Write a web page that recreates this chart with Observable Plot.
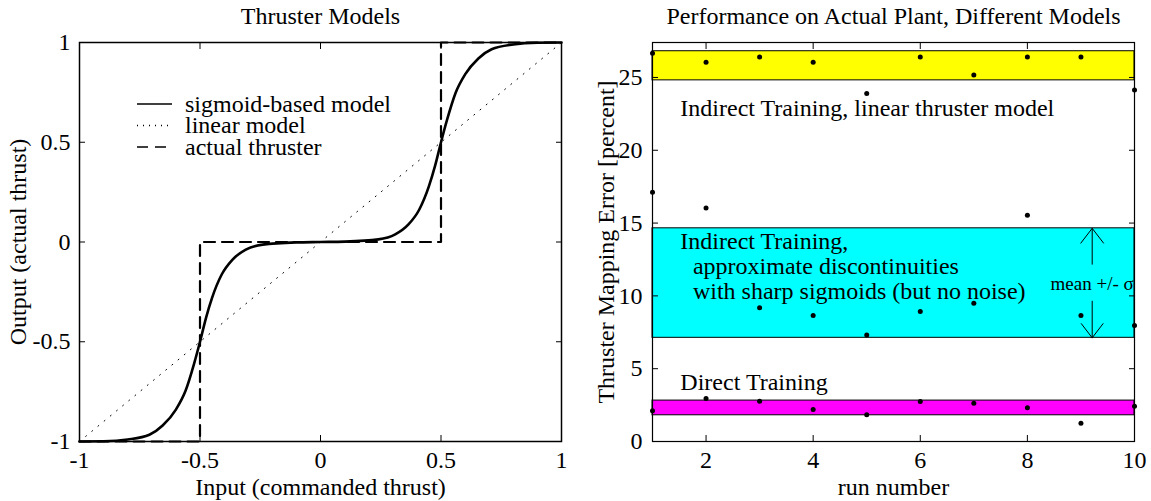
<!DOCTYPE html>
<html><head><meta charset="utf-8">
<script src="https://cdn.jsdelivr.net/npm/d3@7"></script>
<script src="https://cdn.jsdelivr.net/npm/@observablehq/plot@0.6"></script>
<style>
body{margin:0;background:#fff;}
#wrap{position:relative;width:1151px;height:501px;display:flex;font-family:"Liberation Serif","Times New Roman",serif;}
#legend{position:absolute;left:137px;top:92px;}
svg{overflow:visible;}
</style></head><body>
<div id="wrap"><div id="left"></div><div id="right"></div><div id="legend"></div></div>
<script>
// ---------- Left chart data ----------
const leftTitle = "Thruster Models";
const leftXLabel = "Input (commanded thrust)";
const leftYLabel = "Output (actual thrust)";
const leftTicks = [-1, -0.5, 0, 0.5, 1];
const thrusterX = [-1, -0.5, -0.5, 0.5, 0.5, 1];
const thrusterY = [-1, -1, 0, 0, 1, 1];
const linearX = [-1, 1];
const linearY = [-1, 1];
const sigmoidX = [-1, -0.9, -0.8, -0.71, -0.655, -0.6, -0.56, -0.525, -0.5, -0.475, -0.45, -0.41, -0.365, -0.31, -0.24, -0.1, 0,
                  0.1, 0.24, 0.31, 0.365, 0.41, 0.45, 0.475, 0.5, 0.525, 0.56, 0.6, 0.655, 0.71, 0.8, 0.9, 1];
const sigmoidY = [-1, -0.999, -0.99, -0.966, -0.92, -0.84, -0.746, -0.612, -0.5, -0.38, -0.28, -0.163, -0.088, -0.038, -0.013, -0.002, 0,
                  0.002, 0.013, 0.038, 0.088, 0.163, 0.28, 0.38, 0.5, 0.612, 0.746, 0.84, 0.92, 0.966, 0.99, 0.999, 1];
const legendLabels = ["sigmoid-based model", "linear model", "actual thruster"];

// ---------- Right chart data ----------
const rightTitle = "Performance on Actual Plant, Different Models";
const rightXLabel = "run number";
const rightYLabel = "Thruster Mapping Error [percent]";
const runs = [1, 2, 3, 4, 5, 6, 7, 8, 9, 10];
const linearErr  = [26.66, 26.05, 26.4, 26.05, 23.9, 26.4, 25.16, 26.4, 26.4, 24.13];
const sigmoidErr = [17.12, 16.03, 9.18, 8.65, 7.31, 8.92, 9.5, 15.53, 8.65, 7.97];
const directErr  = [2.12, 2.95, 2.76, 2.19, 1.83, 2.74, 2.62, 2.31, 1.25, 2.42];
const bandLow   = [24.8, 7.12, 1.80];
const bandHigh  = [26.8, 14.64, 2.81];
const bandColors = ["#ffff00", "#00ffff", "#ff00ff"];
const rightXTicks = [2, 4, 6, 8, 10];
const rightYTicks = [0, 5, 10, 15, 20, 25];
const annoText = ["Indirect Training, linear thruster model", "Indirect Training,", "approximate discontinuities",
                  "with sharp sigmoids (but no noise)", "Direct Training"];
const annoX = [1.52, 1.52, 1.755, 1.755, 1.52];
const annoY = [22.9, 13.77, 12.05, 10.34, 4.06];
const sigmaLabel = "mean +/- σ";
const sigmaRun = 9.21;
const sigmaTextY = 10.8;
const sigmaArrowTo = [14.64, 7.12];
const sigmaArrowGap = [20, 17];

const FONT = '"Liberation Serif","Times New Roman",serif';
const FS = 24;
const fmt = d => String(d);

// ---------- Left chart ----------
const thruster = thrusterX.map((x, i) => ({x, y: thrusterY[i]}));
const linear = linearX.map((x, i) => ({x, y: linearY[i]}));
const sigmoid = sigmoidX.map((x, i) => ({x, y: sigmoidY[i]}));

const left = Plot.plot({
  width: 590, height: 501,
  marginLeft: 79, marginRight: 29, marginTop: 42, marginBottom: 60,
  style: {fontFamily: FONT, fontSize: FS + "px", background: "white", color: "black", overflow: "visible"},
  x: {domain: [-1, 1]},
  y: {domain: [-1, 1]},
  marks: [
    Plot.line(linear, {x: "x", y: "y", stroke: "black", strokeWidth: 1, strokeDasharray: "1,7"}),
    Plot.line(thruster, {x: "x", y: "y", stroke: "black", strokeWidth: 2.2, strokeDasharray: "11,7"}),
    Plot.line(sigmoid, {x: "x", y: "y", stroke: "black", strokeWidth: 2.6, curve: "monotone-x"}),
    Plot.frame({stroke: "black", strokeWidth: 1.5}),
    Plot.axisX(leftTicks, {anchor: "bottom", tickSize: 0, tickPadding: 9, tickFormat: fmt, label: null, fontSize: FS}),
    Plot.axisX(leftTicks, {anchor: "bottom", tickSize: -6, text: null, label: null}),
    Plot.axisX(leftTicks, {anchor: "top", tickSize: -6, text: null, label: null}),
    Plot.axisY(leftTicks, {anchor: "left", tickSize: 0, tickPadding: 9, tickFormat: fmt, label: null, fontSize: FS}),
    Plot.axisY(leftTicks, {anchor: "left", tickSize: -6, text: null, label: null}),
    Plot.axisY(leftTicks, {anchor: "right", tickSize: -6, text: null, label: null}),
    Plot.text([leftTitle], {frameAnchor: "top", lineAnchor: "middle", dy: -26, fontSize: FS}),
    Plot.text([leftXLabel], {frameAnchor: "bottom", lineAnchor: "middle", dy: 46, fontSize: FS}),
    Plot.text([leftYLabel], {frameAnchor: "left", textAnchor: "middle", lineAnchor: "middle", dx: -61, rotate: -90, fontSize: FS})
  ]
});
document.getElementById("left").appendChild(left);

// ---------- Right chart ----------
const pts = [];
runs.forEach((r, i) => {
  pts.push({run: r, err: linearErr[i]});
  pts.push({run: r, err: sigmoidErr[i]});
  pts.push({run: r, err: directErr[i]});
});
const bands = bandLow.map((lo, i) => ({lo, hi: bandHigh[i], fill: bandColors[i], x1: d3.min(runs), x2: d3.max(runs)}));
const annos = annoText.map((t, i) => ({t, x: annoX[i], y: annoY[i]}));
const arrows = sigmaArrowTo.map((to, i) => ({x: sigmaRun, y1: sigmaTextY, y2: to, gap: sigmaArrowGap[i]}));

const right = Plot.plot({
  width: 561, height: 501,
  marginLeft: 62, marginRight: 17, marginTop: 42, marginBottom: 60,
  style: {fontFamily: FONT, fontSize: FS + "px", background: "white", color: "black", overflow: "visible"},
  x: {domain: [1, 10]},
  y: {domain: [0, 27.4]},
  marks: [
    Plot.rectY(bands, {x1: "x1", x2: "x2", y1: "lo", y2: "hi", fill: d => d.fill, stroke: "black", strokeWidth: 1}),
    Plot.arrow(arrows.slice(0, 1), {x1: "x", x2: "x", y1: "y1", y2: "y2", insetStart: arrows[0].gap, stroke: "black", strokeWidth: 1, headLength: 28, headAngle: 75}),
    Plot.arrow(arrows.slice(1), {x1: "x", x2: "x", y1: "y1", y2: "y2", insetStart: arrows[1].gap, stroke: "black", strokeWidth: 1, headLength: 28, headAngle: 75}),
    Plot.text([sigmaLabel], {x: sigmaRun, y: sigmaTextY, fontSize: 19}),
    Plot.text(annos, {x: "x", y: "y", text: "t", textAnchor: "start", fontSize: FS}),
    Plot.dot(pts, {x: "run", y: "err", r: 2.5, fill: "black"}),
    Plot.frame({stroke: "black", strokeWidth: 1.2}),
    Plot.axisX(rightXTicks, {anchor: "bottom", tickSize: 0, tickPadding: 9, tickFormat: fmt, label: null, fontSize: FS}),
    Plot.axisX(rightXTicks, {anchor: "bottom", tickSize: -6, text: null, label: null}),
    Plot.axisX(rightXTicks, {anchor: "top", tickSize: -6, text: null, label: null}),
    Plot.axisY(rightYTicks, {anchor: "left", tickSize: 0, tickPadding: 10, tickFormat: fmt, label: null, fontSize: FS}),
    Plot.axisY(rightYTicks, {anchor: "left", tickSize: -6, text: null, label: null}),
    Plot.axisY(rightYTicks, {anchor: "right", tickSize: -6, text: null, label: null}),
    Plot.text([rightTitle], {frameAnchor: "top", lineAnchor: "middle", dy: -26, fontSize: FS}),
    Plot.text([rightXLabel], {frameAnchor: "bottom", lineAnchor: "middle", dy: 46, fontSize: FS}),
    Plot.text([rightYLabel], {frameAnchor: "left", textAnchor: "middle", lineAnchor: "middle", dx: -46, rotate: -90, fontSize: FS})
  ]
});
document.getElementById("right").appendChild(right);

// ---------- Legend ----------
const dashes = [null, "1,5", "11,7"];
const lsvg = d3.select("#legend").append("svg").attr("width", 320).attr("height", 70)
  .style("font-family", FONT).style("font-size", FS + "px");
legendLabels.forEach((lab, i) => {
  const y = 12 + i * 21.5;
  lsvg.append("line").attr("x1", 0).attr("x2", 35).attr("y1", y).attr("y2", y)
    .attr("stroke", "black").attr("stroke-width", 1.3)
    .attr("stroke-dasharray", dashes[i]);
  lsvg.append("text").attr("x", 48).attr("y", y).attr("dy", "0.32em").text(lab);
});
</script>
</body></html>
